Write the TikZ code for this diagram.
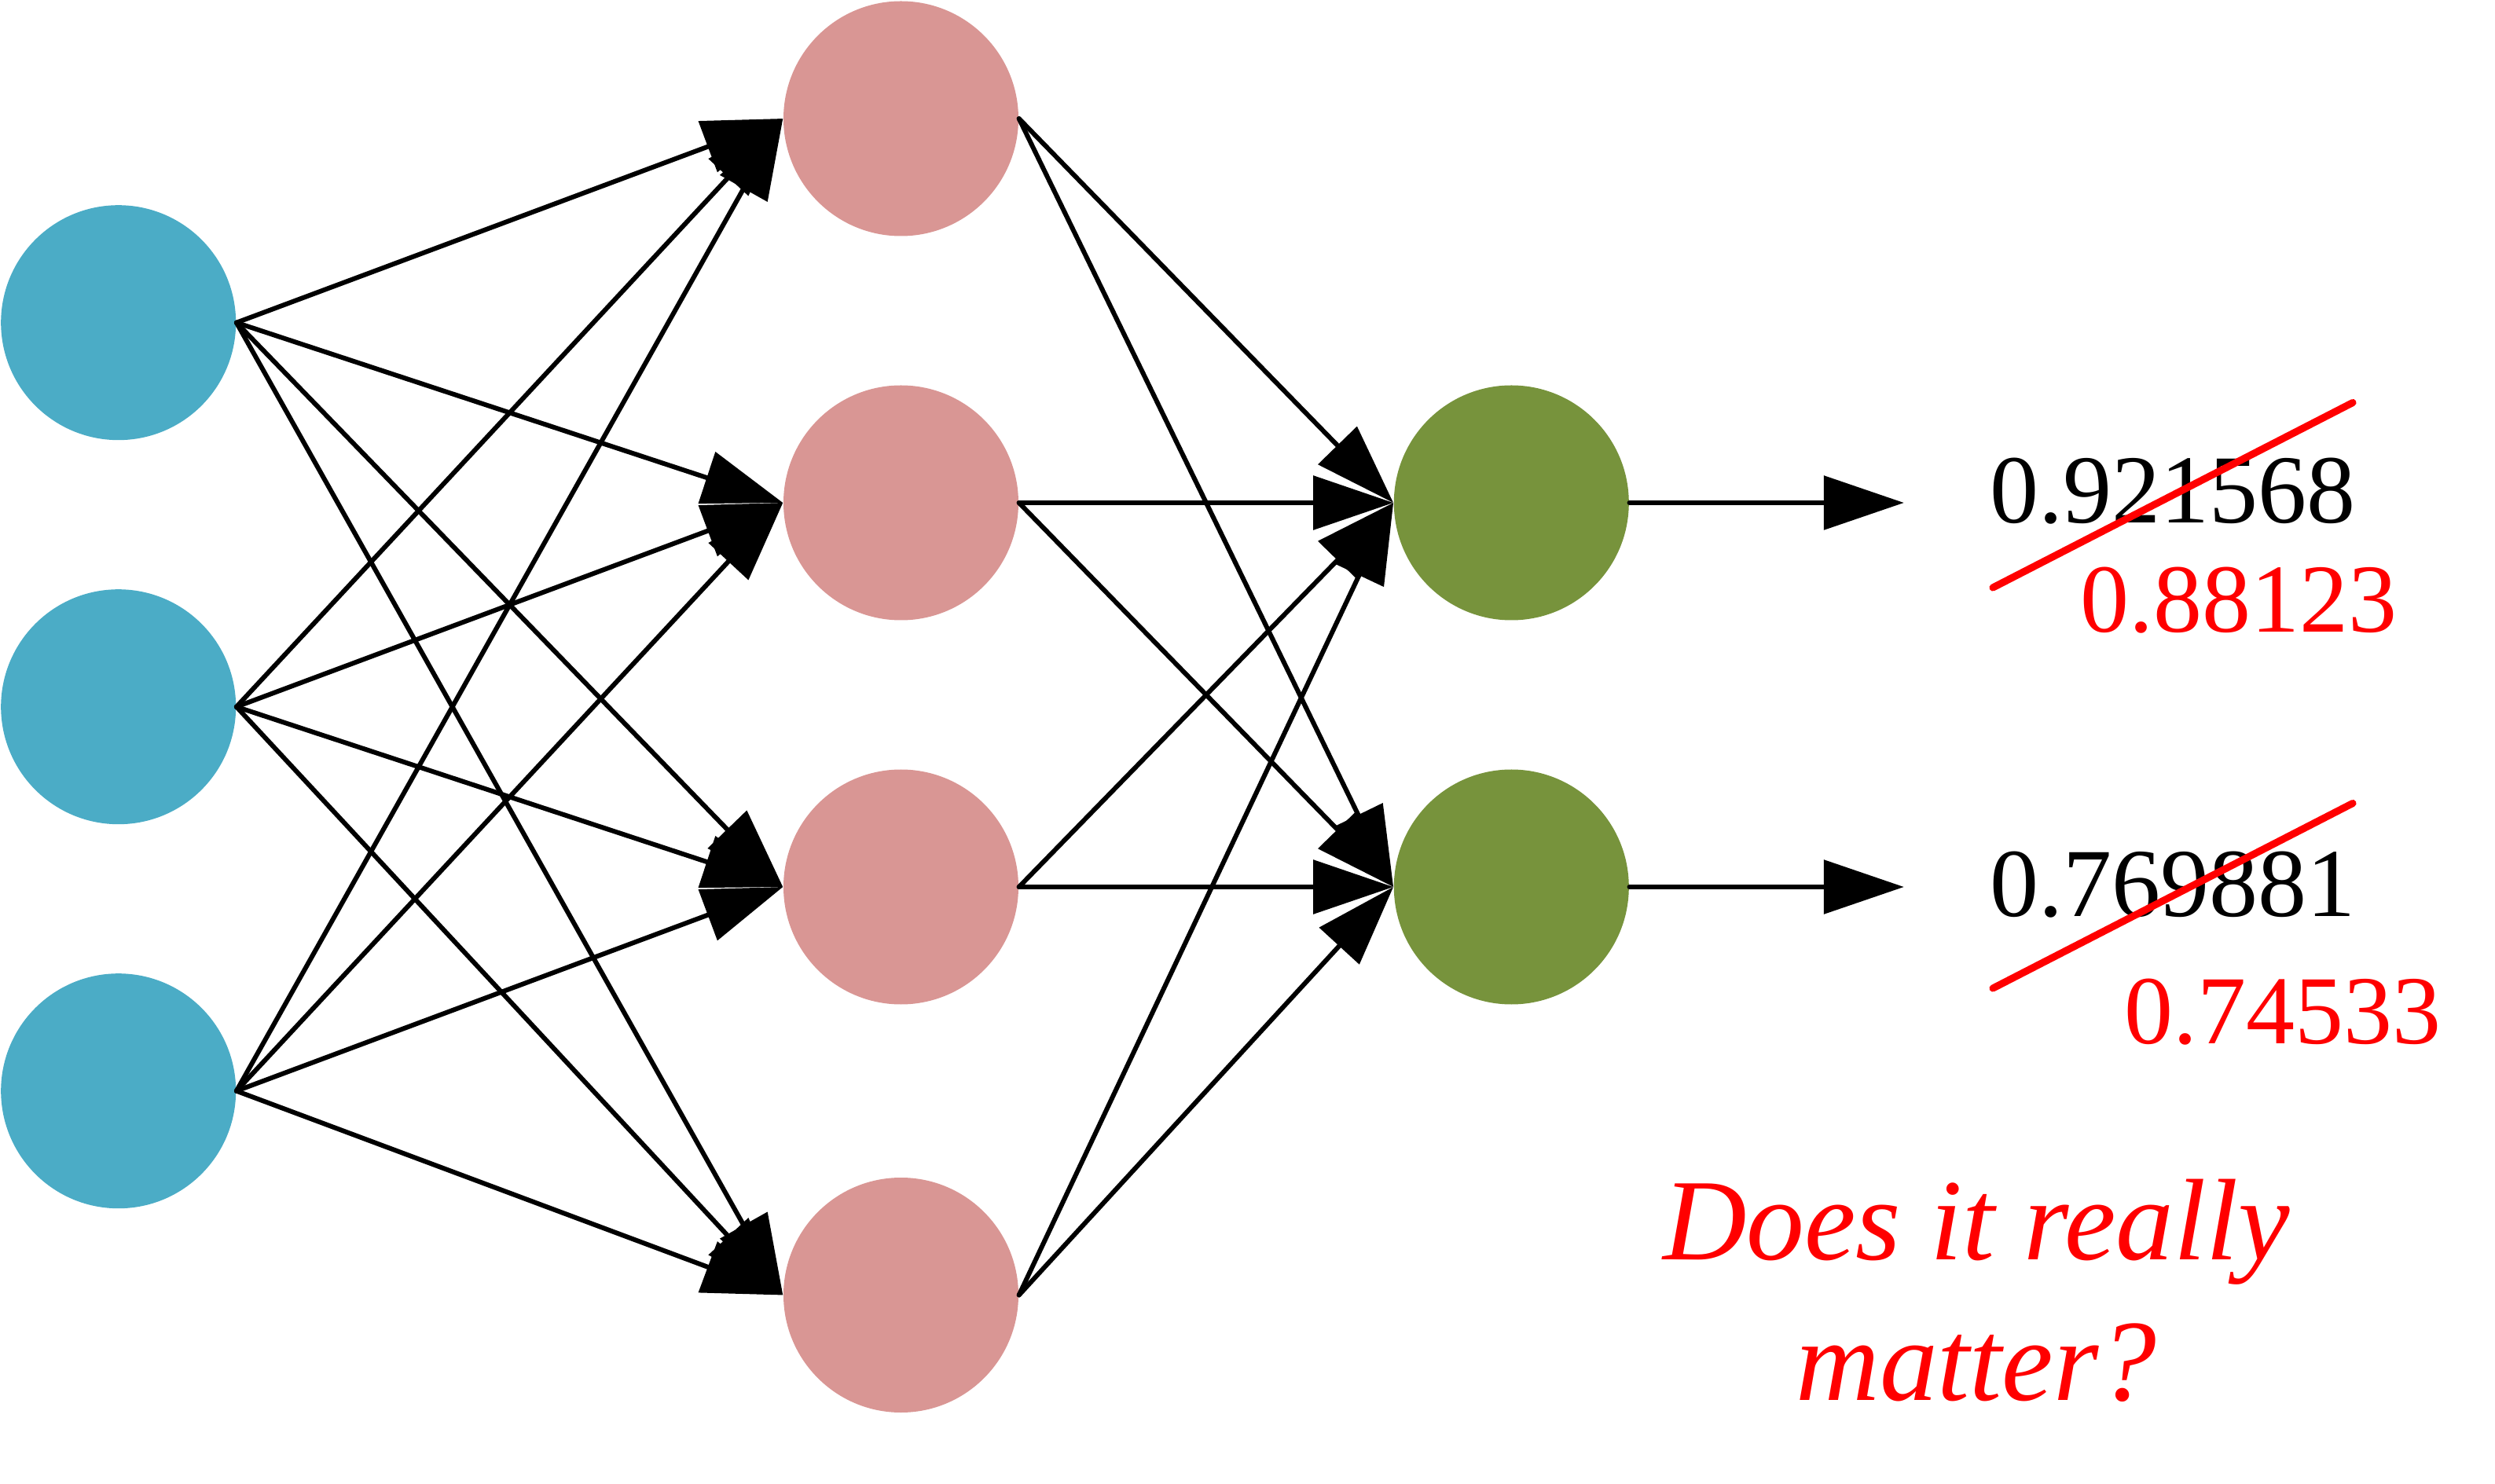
\documentclass[tikz,border=0pt]{standalone}
\usepackage{fontspec}
\setmainfont{Liberation Serif}
\usetikzlibrary{arrows.meta}

\definecolor{inblue}{HTML}{4BACC6}
\definecolor{hidpink}{HTML}{D99694}
\definecolor{outgreen}{HTML}{77933C}

\begin{document}
\begin{tikzpicture}
	\tikzstyle{neuron}=[circle, inner sep=0pt, minimum size=2.99cm]
	\tikzstyle{inp}=[neuron, fill=inblue]
	\tikzstyle{hid}=[neuron, fill=hidpink]
	\tikzstyle{outp}=[neuron, fill=outgreen]
	\tikzstyle{wire}=[line width=1.7pt, line cap=round, -{Triangle[length=1.02cm, width=0.68cm]}]
	\tikzstyle{val}=[inner sep=0pt, anchor=base west, font=\fontsize{35.3}{42}\selectfont]
	\tikzstyle{strike}=[red, line width=2.6pt, line cap=round]
	\tikzstyle{remark}=[inner sep=0pt, anchor=base, red, font=\fontsize{42}{51}\selectfont\itshape]

	\useasboundingbox (0,0) rectangle (31.75,-18.89);

	% input layer
	\node[inp] (in1) at (1.507,-4.107) {};
	\node[inp] (in2) at (1.507,-8.997) {};
	\node[inp] (in3) at (1.507,-13.887) {};

	% hidden layer
	\node[hid] (h1) at (11.465,-1.51) {};
	\node[hid] (h2) at (11.465,-6.40) {};
	\node[hid] (h3) at (11.465,-11.29) {};
	\node[hid] (h4) at (11.465,-16.485) {};

	% output layer
	\node[outp] (out1) at (19.233,-6.40) {};
	\node[outp] (out2) at (19.233,-11.29) {};

	\coordinate (res1) at (24.228,-6.40);
	\coordinate (res2) at (24.228,-11.29);

	\foreach \i in {1,2,3}
		\foreach \j in {1,2,3,4}
			\draw[wire] (in\i.east) -- (h\j.west);
	\foreach \j in {1,2,3,4}
		\foreach \k in {1,2}
			\draw[wire] (h\j.east) -- (out\k.west);
	\draw[wire] (out1.east) -- (res1);
	\draw[wire] (out2.east) -- (res2);

	% results
	\node[val] (old1) at (25.317,-6.656) {0.921568};
	\node[val, red] (new1) at (26.464,-8.049) {0.88123};
	\node[val] (old2) at (25.317,-11.67) {0.769881};
	\node[val, red] (new2) at (27.03,-13.28) {0.74533};

	\coordinate (s1a) at (25.36,-7.48);
	\coordinate (s1b) at (29.94,-5.125);
	\coordinate (s2a) at (25.36,-12.58);
	\coordinate (s2b) at (29.94,-10.225);
	\draw[strike] (s1a) -- (s1b);
	\draw[strike] (s2a) -- (s2b);

	\node[remark] (q1) at (25.15,-16.03) {Does it really};
	\node[remark] (q2) at (25.15,-17.82) {matter?};
\end{tikzpicture}
\end{document}
